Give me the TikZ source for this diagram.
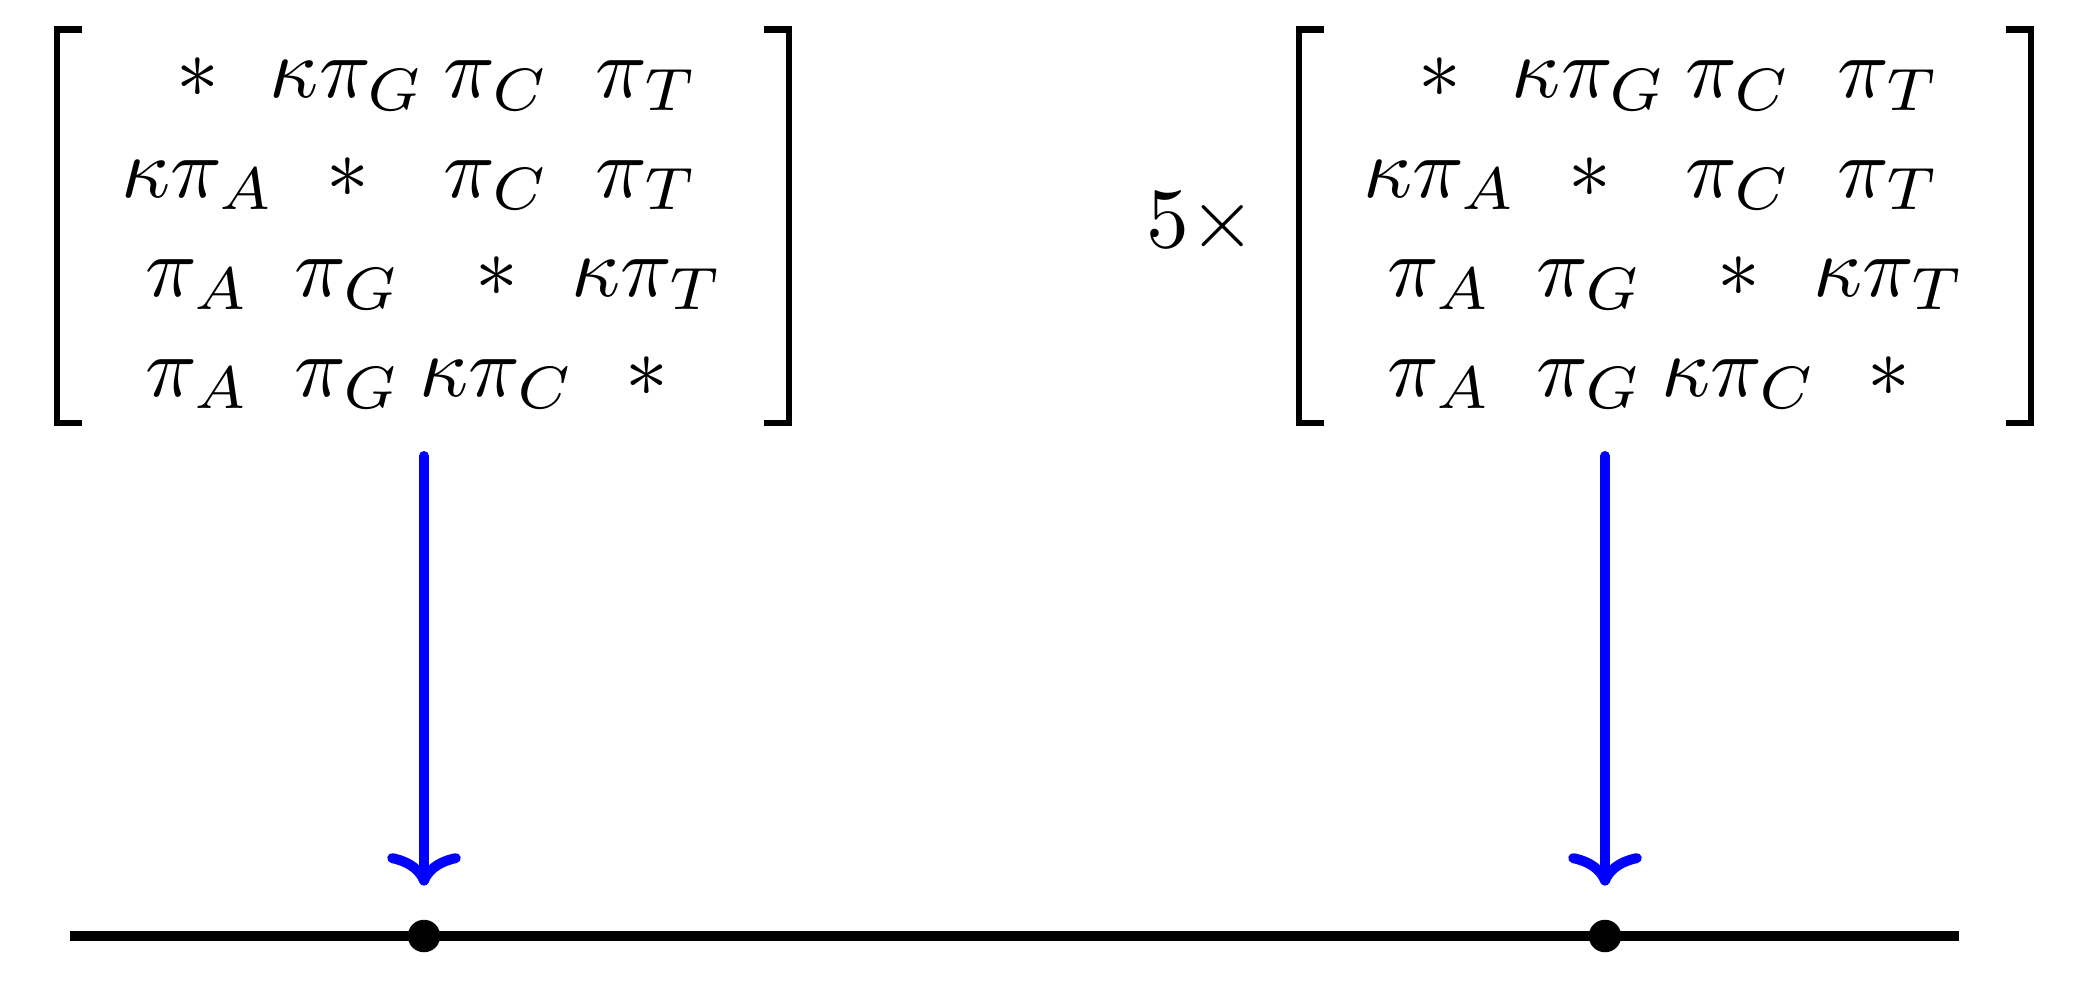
\documentclass[tikz,border=0pt]{standalone}
\usetikzlibrary{arrows.meta}
\begin{document}
\begin{tikzpicture}[x=0.117pt,y=-0.117pt,
  entry/.style={inner sep=0pt,anchor=base},
  bracket/.style={line width=0.75pt,line join=miter,line cap=butt},
  axis/.style={line width=1.17pt},
  dotnode/.style={circle,fill=black,inner sep=0pt,minimum size=3.8pt},
  blue arrow/.style={draw=blue,line width=1.17pt,line cap=round,
    -{Computer Modern Rightarrow[length=3.8pt,width=8.6pt]},shorten >=3.8pt}]
\useasboundingbox (0,0) rectangle (2089,982);
\foreach \dx/\p in {0/a,1242/b}{
  \begin{scope}[xshift=\dx*0.117pt]
  \node[entry] (\p-1-1) at (198,97.5) {$*$};
  \node[entry] (\p-1-2) at (347.5,97.5) {$\kappa\pi_G$};
  \node[entry] (\p-1-3) at (497,97.5) {$\pi_C$};
  \node[entry] (\p-1-4) at (647,97.5) {$\pi_T$};
  \node[entry] (\p-2-1) at (198,197) {$\kappa\pi_A$};
  \node[entry] (\p-2-2) at (347.5,197) {$*$};
  \node[entry] (\p-2-3) at (497,197) {$\pi_C$};
  \node[entry] (\p-2-4) at (647,197) {$\pi_T$};
  \node[entry] (\p-3-1) at (198,296.5) {$\pi_A$};
  \node[entry] (\p-3-2) at (347.5,296.5) {$\pi_G$};
  \node[entry] (\p-3-3) at (497,296.5) {$*$};
  \node[entry] (\p-3-4) at (647,296.5) {$\kappa\pi_T$};
  \node[entry] (\p-4-1) at (198,396) {$\pi_A$};
  \node[entry] (\p-4-2) at (347.5,396) {$\pi_G$};
  \node[entry] (\p-4-3) at (497,396) {$\kappa\pi_C$};
  \node[entry] (\p-4-4) at (647,396) {$*$};
  \draw[bracket] (81.7,29.5) -- (57,29.5) -- (57,423) -- (81.7,423);
  \draw[bracket] (764,29.5) -- (789,29.5) -- (789,423) -- (764,423);
  \end{scope}
}
\node[entry] (five) at (1201,247) {$5\times$};
\coordinate (L) at (70,936);
\coordinate (R) at (1959,936);
\draw[axis] (L) -- (R);
\node[dotnode] (d1) at (424,936) {};
\node[dotnode] (d2) at (1605,936) {};
\coordinate (s1) at (424,456);
\coordinate (s2) at (1605,456);
\draw[blue arrow] (s1) -- (d1);
\draw[blue arrow] (s2) -- (d2);
\end{tikzpicture}
\end{document}
